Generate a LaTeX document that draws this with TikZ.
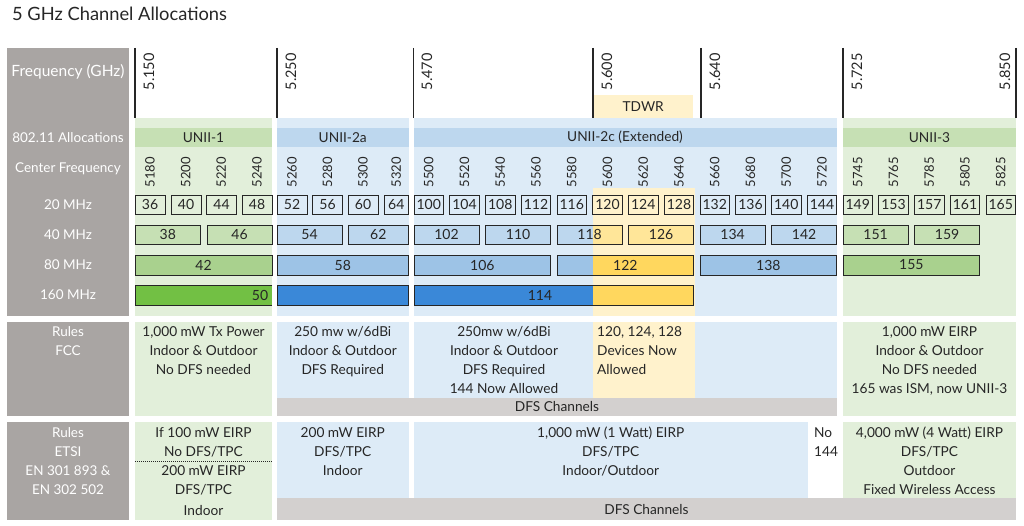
\documentclass[tikz,border=0pt]{standalone}
\usepackage{fontspec}
\setmainfont{Lato}
\usetikzlibrary{positioning}

\definecolor{sidegray}{HTML}{A9A5A3}
\definecolor{dfsgray}{HTML}{D3D0CF}
\definecolor{inkgray}{HTML}{262626}
\definecolor{greenbg}{HTML}{E2EFDA}
\definecolor{greenhd}{HTML}{C6E0B4}
\definecolor{greenmid}{HTML}{A9D18E}
\definecolor{greendark}{HTML}{72C044}
\definecolor{bluebg}{HTML}{DDEBF7}
\definecolor{bluehd}{HTML}{BDD7EE}
\definecolor{bluemid}{HTML}{9DC3E6}
\definecolor{bluedark}{HTML}{3A88D8}
\definecolor{yellowbg}{HTML}{FFF2CC}
\definecolor{yellowmid}{HTML}{FFE699}
\definecolor{yellowdark}{HTML}{FFD75E}

\begin{document}
\begin{tikzpicture}[x=1pt,y=-1pt,
  side label/.style={text=white,inner sep=0pt,font=\fontsize{13.5}{19}\selectfont},
  freq label/.style={rotate=90,anchor=east,inner sep=0pt,text=inkgray,font=\fontsize{14.5}{14.5}\selectfont},
  cf label/.style={rotate=90,anchor=east,inner sep=0pt,text=inkgray,font=\fontsize{13}{13}\selectfont},
  chan/.style={draw=inkgray,line width=0.9pt,anchor=north west,inner sep=0pt,outer sep=0pt,
    minimum width=29.5pt,minimum height=19pt,text=inkgray,font=\fontsize{14}{14}\selectfont},
  band/.style={inner sep=0pt,text=inkgray,font=\fontsize{13.7}{13.7}\selectfont},
  rule text/.style={anchor=north,align=center,inner sep=0pt,text=inkgray,font=\fontsize{13.7}{19}\selectfont}]

  \useasboundingbox[fill=white] (0,0) rectangle (1024,526);

  \node[anchor=west,inner sep=0pt,text=inkgray,font=\fontsize{18.3}{18.3}\selectfont] (title) at (12,14) {5 GHz Channel Allocations};

  % side column
  \fill[sidegray] (7,48) rectangle (129,316);
  \fill[sidegray] (7,322) rectangle (129,416);
  \fill[sidegray] (7,422) rectangle (129,520);
  \node[side label,font=\fontsize{15.5}{15.5}\selectfont] (hfreq) at (68,72) {Frequency (GHz)};
  \node[side label] (halloc) at (68,138) {802.11 Allocations};
  \node[side label] (hcf) at (68,169) {Center Frequency};
  \node[side label] (h20) at (68,205) {20 MHz};
  \node[side label] (h40) at (68,235) {40 MHz};
  \node[side label] (h80) at (68,265) {80 MHz};
  \node[side label] (h160) at (68,295) {160 MHz};
  \node[side label,anchor=north,align=center] (hfcc) at (68,326) {Rules\\FCC};
  \node[side label,anchor=north,align=center] (hetsi) at (68,427) {Rules\\ETSI\\EN 301 893 \&\\EN 302 502};

  % band backgrounds
  \fill[greenbg] (135,118) rectangle (272,316);
  \fill[bluebg] (277,118) rectangle (408.5,316);
  \fill[bluebg] (413.5,118) rectangle (836.75,316);
  \fill[greenbg] (843,118) rectangle (1016,316);
  \fill[greenhd] (135,128) rectangle (272,147);
  \fill[bluehd] (277,128) rectangle (408.5,147);
  \fill[bluehd] (413.5,128) rectangle (836.75,147);
  \fill[greenhd] (843,128) rectangle (1016,147);
  \fill[yellowbg] (592.75,188) rectangle (694.5,316);

  \node[band] (unii1) at (203.5,137.5) {UNII-1};
  \node[band] (unii2a) at (342.75,137.5) {UNII-2a};
  \node[band] (unii2c) at (625,137.5) {UNII-2c (Extended)};
  \node[band] (unii3) at (929.5,137.5) {UNII-3};

  \node[band,fill=yellowbg,anchor=north west,minimum width=100pt,minimum height=23pt] (tdwr) at (593,95) {TDWR};

  % band edges
  \draw[inkgray,line width=1.3pt] (135,48) -- (135,118);
  \draw[inkgray,line width=1.3pt] (277,48) -- (277,118);
  \draw[inkgray,line width=1.3pt] (413.5,48) -- (413.5,118);
  \draw[inkgray,line width=1.3pt] (593,48) -- (593,118);
  \draw[inkgray,line width=1.3pt] (701,48) -- (701,118);
  \draw[inkgray,line width=1.3pt] (843,48) -- (843,118);
  \draw[inkgray,line width=1.3pt] (1016,48) -- (1016,118);
  \node[freq label] (g5150) at (149,53) {5.150};
  \node[freq label] (g5250) at (291,53) {5.250};
  \node[freq label] (g5470) at (427,53) {5.470};
  \node[freq label] (g5600) at (607,53) {5.600};
  \node[freq label] (g5640) at (715,53) {5.640};
  \node[freq label] (g5725) at (857,53) {5.725};
  \node[freq label] (g5850) at (1005,53) {5.850};

  % center frequencies
  \node[cf label] (f5180) at (150,157) {5180};
  \node[cf label] (f5200) at (185.7,157) {5200};
  \node[cf label] (f5220) at (221.3,157) {5220};
  \node[cf label] (f5240) at (257,157) {5240};
  \node[cf label] (f5260) at (292,157) {5260};
  \node[cf label] (f5280) at (327.5,157) {5280};
  \node[cf label] (f5300) at (363,157) {5300};
  \node[cf label] (f5320) at (396.25,157) {5320};
  \node[cf label] (f5500) at (428.75,157) {5500};
  \node[cf label] (f5520) at (464.5,157) {5520};
  \node[cf label] (f5540) at (500.25,157) {5540};
  \node[cf label] (f5560) at (536,157) {5560};
  \node[cf label] (f5580) at (571.75,157) {5580};
  \node[cf label] (f5600) at (607.5,157) {5600};
  \node[cf label] (f5620) at (643.25,157) {5620};
  \node[cf label] (f5640) at (679,157) {5640};
  \node[cf label] (f5660) at (714.75,157) {5660};
  \node[cf label] (f5680) at (750.5,157) {5680};
  \node[cf label] (f5700) at (786.25,157) {5700};
  \node[cf label] (f5720) at (822,157) {5720};
  \node[cf label] (f5745) at (857.75,157) {5745};
  \node[cf label] (f5765) at (893.5,157) {5765};
  \node[cf label] (f5785) at (929.25,157) {5785};
  \node[cf label] (f5805) at (965,157) {5805};
  \node[cf label] (f5825) at (1000.75,157) {5825};

  % 20 MHz
  \node[chan,minimum width=30pt] (c36) at (135,195) {36};
  \node[chan,minimum width=30pt] (c40) at (171,195) {40};
  \node[chan,minimum width=30pt] (c44) at (206.5,195) {44};
  \node[chan,minimum width=30pt] (c48) at (242,195) {48};
  \node[chan,minimum width=30pt] (c52) at (277,195) {52};
  \node[chan,minimum width=30pt] (c56) at (312.5,195) {56};
  \node[chan,minimum width=30pt] (c60) at (348,195) {60};
  \node[chan,minimum width=24.5pt] (c64) at (384,195) {64};
  \node[chan] (c100) at (414,195) {100};
  \node[chan] (c104) at (449.75,195) {104};
  \node[chan] (c108) at (485.5,195) {108};
  \node[chan] (c112) at (521.25,195) {112};
  \node[chan] (c116) at (557,195) {116};
  \node[chan] (c120) at (592.75,195) {120};
  \node[chan] (c124) at (628.5,195) {124};
  \node[chan] (c128) at (664.25,195) {128};
  \node[chan] (c132) at (700,195) {132};
  \node[chan] (c136) at (735.75,195) {136};
  \node[chan] (c140) at (771.5,195) {140};
  \node[chan] (c144) at (807.25,195) {144};
  \node[chan] (c149) at (843,195) {149};
  \node[chan] (c153) at (878.75,195) {153};
  \node[chan] (c157) at (914.5,195) {157};
  \node[chan] (c161) at (950.25,195) {161};
  \node[chan] (c165) at (986,195) {165};

  % 40 MHz
  \node[chan,fill=greenhd,minimum width=65.5pt] (c38) at (135,225) {38};
  \node[chan,fill=greenhd,minimum width=65pt] (c46) at (207,225) {46};
  \node[chan,fill=bluehd,minimum width=65pt] (c54) at (277,225) {54};
  \node[chan,fill=bluehd,minimum width=60.5pt] (c62) at (348,225) {62};
  \node[chan,fill=bluehd,minimum width=65pt] (c102) at (414,225) {102};
  \node[chan,fill=bluehd,minimum width=65.25pt] (c110) at (485.5,225) {110};
  \fill[bluehd] (557,225) rectangle (592.75,244);
  \fill[yellowmid] (592.75,225) rectangle (622.25,244);
  \node[chan,minimum width=65.25pt] (c118) at (557,225) {118};
  \node[chan,fill=yellowmid,minimum width=65.25pt] (c126) at (628.5,225) {126};
  \node[chan,fill=bluehd,minimum width=65.25pt] (c134) at (700,225) {134};
  \node[chan,fill=bluehd,minimum width=65.25pt] (c142) at (771.5,225) {142};
  \node[chan,fill=greenhd,minimum width=65.25pt] (c151) at (843,225) {151};
  \node[chan,fill=greenhd,minimum width=65.25pt] (c159) at (914.5,225) {159};

  % 80 MHz
  \node[chan,fill=greenmid,minimum width=137pt,minimum height=20pt] (c42) at (135,255) {42};
  \node[chan,fill=bluemid,minimum width=131.5pt,minimum height=20pt] (c58) at (277,255) {58};
  \node[chan,fill=bluemid,minimum width=136.75pt,minimum height=20pt] (c106) at (414,255) {106};
  \fill[bluemid] (557,255) rectangle (592.75,275);
  \fill[yellowdark] (592.75,255) rectangle (693.75,275);
  \node[chan,minimum width=136.75pt,minimum height=20pt] (c122) at (557,255) {122};
  \node[chan,fill=bluemid,minimum width=136.75pt,minimum height=20pt] (c138) at (700,255) {138};
  \node[chan,fill=greenmid,minimum width=136.75pt,minimum height=20pt] (c155) at (843,255) {155};

  % 160 MHz
  \fill[greendark] (135,285) rectangle (272,305);
  \draw[inkgray,line width=0.9pt] (272,285) -- (135,285) -- (135,305) -- (272,305);
  \node[chan,fill=bluedark,minimum width=131.5pt,minimum height=20pt] (c50b) at (277,285) {};
  \node[band,font=\fontsize{14}{14}\selectfont] (c50) at (260,295) {50};
  \fill[bluedark] (414,285) rectangle (592.75,305);
  \fill[yellowdark] (592.75,285) rectangle (693.75,305);
  \node[chan,minimum width=279.75pt,minimum height=20pt] (c114) at (414,285) {};
  \node[band,font=\fontsize{14}{14}\selectfont] (c114t) at (540,295) {114};

  % FCC rules
  \fill[greenbg] (135,322) rectangle (272,416);
  \fill[bluebg] (277,322) rectangle (408.5,398);
  \fill[bluebg] (413.5,322) rectangle (836.75,398);
  \fill[yellowbg] (592.75,322) rectangle (694.5,398);
  \fill[greenbg] (843,322) rectangle (1016,416);
  \fill[dfsgray] (277,398) rectangle (836.75,416);
  \node[rule text] (fcc1) at (203.5,326) {1,000 mW Tx Power\\Indoor \& Outdoor\\No DFS needed};
  \node[rule text] (fcc2a) at (342.75,326) {250 mw w/6dBi\\Indoor \& Outdoor\\DFS Required};
  \node[rule text] (fcc2c) at (504,326) {250mw w/6dBi\\Indoor \& Outdoor\\DFS Required\\144 Now Allowed};
  \node[rule text,anchor=north west,align=left] (fcctdwr) at (597,326) {120, 124, 128\\Devices Now\\Allowed};
  \node[rule text] (fcc3) at (929.5,326) {1,000 mW EIRP\\Indoor \& Outdoor\\No DFS needed\\165 was ISM, now UNII-3};
  \node[band] (fccdfs) at (557,407) {DFS Channels};

  % ETSI rules
  \fill[greenbg] (135,422) rectangle (272,520);
  \fill[bluebg] (277,422) rectangle (408.5,498);
  \fill[bluebg] (413.5,422) rectangle (808,498);
  \fill[greenbg] (843,422) rectangle (1016,498);
  \fill[dfsgray] (277,498) rectangle (1016,520);
  \node[rule text] (etsi1a) at (203.5,427) {If 100 mW EIRP\\No DFS/TPC};
  \draw[inkgray,line width=0.7pt,dash pattern=on 1pt off 1pt] (135,461) -- (272,461);
  \node[rule text] (etsi1b) at (203.5,465) {200 mW EIRP\\DFS/TPC};
  \node[band] (etsi1c) at (203.5,510) {Indoor};
  \node[rule text] (etsi2a) at (342.75,427) {200 mW EIRP\\DFS/TPC\\Indoor};
  \node[rule text] (etsi2c) at (610.75,427) {1,000 mW (1 Watt) EIRP\\DFS/TPC\\Indoor/Outdoor};
  \node[rule text,anchor=north west,align=left] (etsino) at (814,427) {No\\144};
  \node[rule text] (etsi3) at (929.5,427) {4,000 mW (4 Watt) EIRP\\DFS/TPC\\Outdoor\\Fixed Wireless Access};
  \node[band] (etsidfs) at (646.5,510) {DFS Channels};
\end{tikzpicture}
\end{document}
